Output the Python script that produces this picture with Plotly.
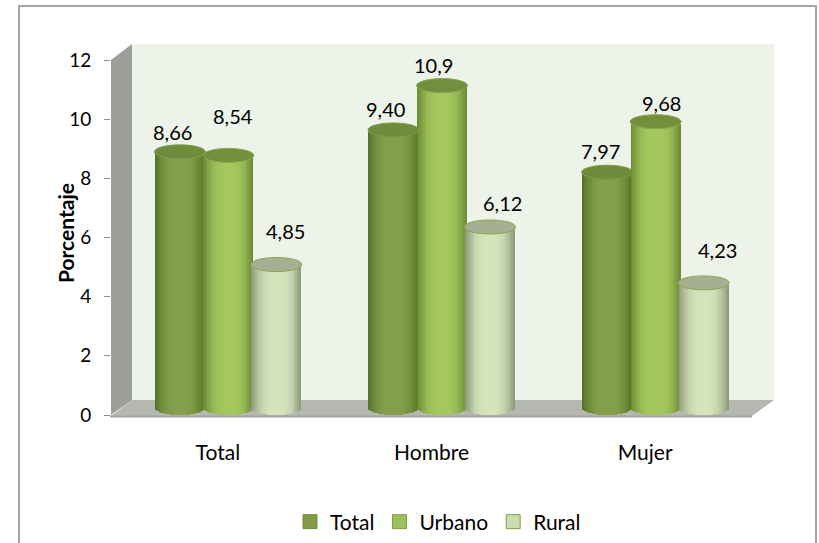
import plotly.graph_objects as go
import math

categories = ["Total", "Hombre", "Mujer"]
series_names = ["Total", "Urbano", "Rural"]
total_values = [8.66, 9.40, 7.97]
urbano_values = [8.54, 10.9, 9.68]
rural_values = [4.85, 6.12, 4.23]
total_labels = ["8,66", "9,40", "7,97"]
urbano_labels = ["8,54", "10,9", "9,68"]
rural_labels = ["4,85", "6,12", "4,23"]
y_ticks = [0, 2, 4, 6, 8, 10, 12]

W, H = 819, 543
L, R, T, B = 111, 774, 44, 415
PX_X = 213.67
PX_Y = 29.58
x_lo = -0.5
x_hi = x_lo + (R - L) / PX_X
y_hi = (B - T) / PX_Y


def px(v):
    return (v - L) / (R - L)


def py(v):
    return (B - v) / (B - T)


def mix(a, b, f):
    return "rgb(%d,%d,%d)" % tuple(round(a[i] + (b[i] - a[i]) * f) for i in range(3))


series_values = [total_values, urbano_values, rural_values]
series_labels = [total_labels, urbano_labels, rural_labels]
centers_px = [-38, 10.5, 58.5]
half_w_px = 25
depth_shift = 7 / PX_Y
ell_h = 7 / PX_Y
edge_cols = [(84, 114, 40), (104, 136, 50), (136, 152, 118)]
mid_cols = [(132, 160, 76), (164, 200, 94), (214, 228, 188)]
top_cols = ["#6f8b3c", "#728f3e", "#a5b092"]
top_lines = ["#7c9a44", "#86a64a", "#86a64a"]
label_dx = [
    [-7, -8, -7],
    [5, -9, 6],
    [9, 12, 14],
]
label_dy_tbl = [
    [20, 21, 21],
    [39, 21, 19],
    [34, 24, 33],
]

N = 26
fig = go.Figure()
shapes = []
shapes.append(dict(type="rect", xref="paper", yref="paper", x0=px(19), x1=px(816), y0=py(570), y1=py(6),
                   line=dict(color="#a6a6a6", width=2), fillcolor="white", layer="below"))
shapes.append(dict(type="rect", xref="paper", yref="paper", x0=px(132), x1=px(774), y0=py(400), y1=py(44),
                   line=dict(width=0), fillcolor="#eef3ea", layer="below"))


def poly(pts):
    return "M" + " L".join(f"{px(a):.5f},{py(b):.5f}" for a, b in pts) + " Z"


shapes.append(dict(type="path", xref="paper", yref="paper",
                   path=poly([(111, 60), (132, 44), (132, 400), (111, 415)]),
                   line=dict(width=0), fillcolor="#9c9e99", layer="below"))
shapes.append(dict(type="path", xref="paper", yref="paper",
                   path=poly([(111, 416), (132, 400), (774, 400), (752, 416)]),
                   line=dict(width=0), fillcolor="#b5b7b1", layer="below"))
shapes.append(dict(type="line", xref="paper", yref="paper", x0=px(110), x1=px(752), y0=py(416.5), y1=py(416.5),
                   line=dict(color="#a3a5a0", width=2), layer="below"))

xpos = list(range(len(categories)))
annotations = []
for s, vals in enumerate(series_values):
    dx = centers_px[s] / PX_X
    hw = half_w_px / PX_X
    for k in range(N):
        t = -1 + (2 * k + 1) / N
        arc = ell_h * math.sqrt(max(0, 1 - t * t))
        light = (1 - abs(t) ** 3.0) ** 1.2
        col = mix(edge_cols[s], mid_cols[s], light)
        fig.add_trace(go.Bar(
            x=[p + dx + t * hw for p in xpos],
            y=vals,
            base=[depth_shift - arc] * len(vals),
            width=2 * hw / N * 1.15,
            marker=dict(color=col, line=dict(width=0)),
            name=series_names[s],
            showlegend=False,
            hoverinfo="skip",
        ))
    for i, v in enumerate(vals):
        yc = v + depth_shift
        shapes.append(dict(type="circle", xref="x", yref="y",
                           x0=i + dx - hw - 0.5 / PX_X, x1=i + dx + hw + 0.5 / PX_X,
                           y0=yc - ell_h, y1=yc + ell_h,
                           fillcolor=top_cols[s], line=dict(color=top_lines[s], width=1), layer="above"))
        annotations.append(dict(x=i + dx, y=yc, xref="x", yref="y", text=series_labels[s][i],
                                showarrow=False, xshift=label_dx[s][i], yshift=label_dy_tbl[s][i],
                                font=dict(family="Lato", size=20, color="#000000")))

annotations.append(dict(x=px(65), y=py(233), xref="paper", yref="paper", text="<b>Porcentaje</b>", textangle=-90,
                        showarrow=False, xanchor="center", yanchor="middle",
                        font=dict(family="Lato", size=21, color="#000000")))

legend_cols = ["#7f9b49", "#9cc05a", "#cbdcb0"]
legend_edges = ["#6f8f3a", "#7f9f45", "#7f9f45"]
for s, name in enumerate(series_names):
    fig.add_trace(go.Scatter(x=[None], y=[None], name=name, mode="markers",
                             marker=dict(symbol="square", size=14, color=legend_cols[s],
                                         line=dict(color=legend_edges[s], width=1))))

fig.update_layout(
    width=W, height=H, autosize=False,
    margin=dict(l=L, r=W - R, t=T, b=H - B, pad=0),
    paper_bgcolor="white", plot_bgcolor="rgba(0,0,0,0)",
    barmode="overlay", bargap=0,
    showlegend=True,
    font=dict(family="Lato", size=18, color="#000000"),
    shapes=shapes, annotations=annotations,
    legend=dict(orientation="h", x=438 / W, xref="container", xanchor="center", y=1 - 522 / H, yref="container",
                yanchor="middle",
                font=dict(family="Lato", size=21), itemclick=False, itemdoubleclick=False,
                itemsizing="trace", traceorder="normal",
                bgcolor="rgba(0,0,0,0)"),
    xaxis=dict(range=[x_lo, x_hi], tickmode="array", tickvals=xpos, ticktext=categories, showgrid=False,
               zeroline=False, showline=False, ticks="", ticklabelstandoff=23,
               tickfont=dict(family="Lato", size=21, color="#000000")),
    yaxis=dict(range=[0, y_hi], tickmode="array", tickvals=y_ticks, showgrid=False, zeroline=False, showline=False,
               ticks="outside", ticklen=6, tickcolor="#8c8c8c", tickwidth=1,
               ticklabelstandoff=9,
               tickfont=dict(family="Lato", size=19, color="#000000")),
)

fig.write_html("out.html", config={"displayModeBar": False},
               post_script="document.body.style.margin='0';document.documentElement.style.overflow='hidden';")
